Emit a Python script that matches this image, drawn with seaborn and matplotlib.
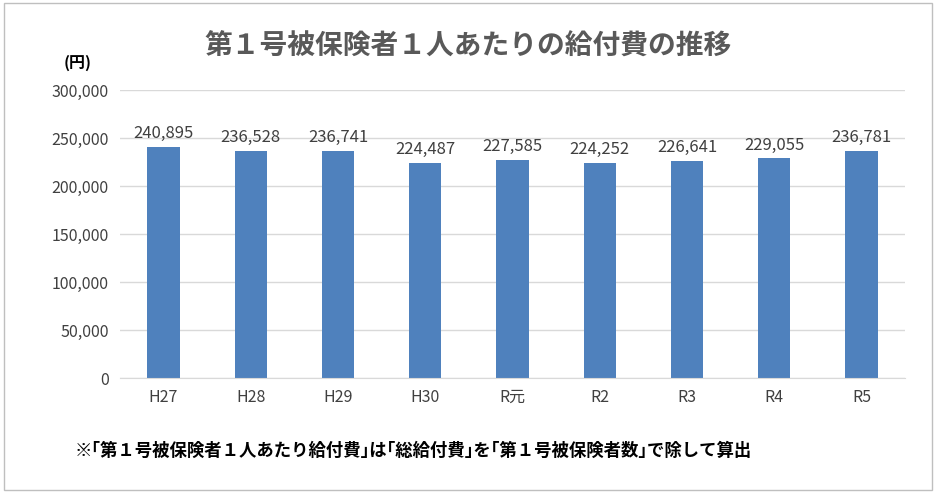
import matplotlib

matplotlib.use("Agg")
import matplotlib.pyplot as plt
import pandas as pd
import seaborn as sns
from matplotlib.patches import Rectangle

categories = ["H27", "H28", "H29", "H30", "R元", "R2", "R3", "R4", "R5"]
values = [240895, 236528, 236741, 224487, 227585, 224252, 226641, 229055, 236781]
y_ticks = [0, 50000, 100000, 150000, 200000, 250000, 300000]

plt.rcParams["font.family"] = ["Noto Sans CJK JP", "DejaVu Sans"]

df = pd.DataFrame({"year": categories, "cost": values})

fig = plt.figure(figsize=(9.36, 4.93), dpi=100)
fig.patches.append(Rectangle((0.004, 0.006), 0.992, 0.988, transform=fig.transFigure,
                             fill=False, edgecolor="#bfbfbf", linewidth=1))
ax = fig.add_axes([0.128, 0.233, 0.839, 0.584])
sns.barplot(data=df, x="year", y="cost", color="#4F81BD", saturation=1, width=0.37, ax=ax)

for i, v in enumerate(values):
    ax.text(i, v + 5000, f"{v:,}", ha="center", va="bottom", fontsize=12, color="#404040")

ax.set_ylim(0, 300000)
ax.set_yticks(y_ticks)
ax.set_yticklabels([f"{t:,}" for t in y_ticks], fontsize=11.5, color="#404040")
ax.tick_params(axis="x", labelsize=11.5, colors="#404040", length=0, pad=8)
ax.tick_params(axis="y", length=0, pad=8)
ax.grid(axis="y", color="#d9d9d9", linewidth=1)
ax.set_axisbelow(True)
for s in ["top", "right", "left"]:
    ax.spines[s].set_visible(False)
ax.spines["bottom"].set_color("#d9d9d9")
ax.set_xlabel("")
ax.set_ylabel("")
ax.set_xlim(-0.5, len(categories) - 0.5)

fig.text(0.5, 0.905, "第１号被保険者１人あたりの給付費の推移", ha="center", va="center",
         fontsize=20, fontweight="bold", color="#595959")
fig.text(0.083, 0.872, "(円)", ha="center", va="center", fontsize=11.5, fontweight="bold")
fig.text(0.080, 0.085, "※｢第１号被保険者１人あたり給付費｣は｢総給付費｣を｢第１号被保険者数｣で除して算出",
         ha="left", va="center", fontsize=12.5, fontweight="bold")

fig.savefig("out.png", dpi=100)
